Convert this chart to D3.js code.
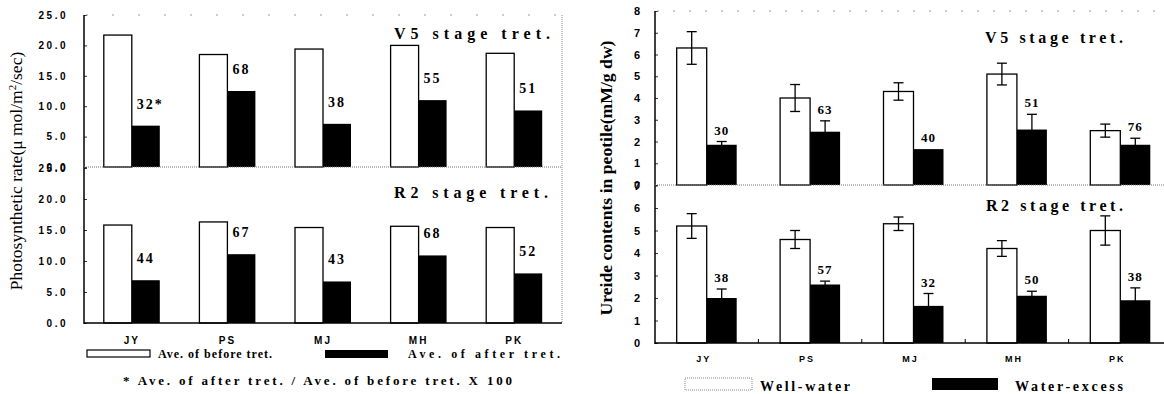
<!DOCTYPE html>
<html>
<head>
<meta charset="utf-8">
<script src="https://cdn.jsdelivr.net/npm/d3@7"></script>
<style>
  body { margin: 0; background: #fff; }
  svg { display: block; }
</style>
</head>
<body>
<div id="root"></div>
<script>
// ---- data ----
const categories = ["JY", "PS", "MJ", "MH", "PK"];

// photosynthetic rate (left chart)
const photoV5Before = [21.7, 18.5, 19.4, 20.0, 18.7];
const photoV5After = [6.8, 12.5, 7.1, 11.0, 9.3];
const photoV5Ratio = ["32*", "68", "38", "55", "51"];
const photoR2Before = [15.8, 16.3, 15.4, 15.6, 15.4];
const photoR2After = [6.9, 11.1, 6.7, 10.9, 8.0];
const photoR2Ratio = ["44", "67", "43", "68", "52"];
const photoTicks = [0, 5, 10, 15, 20, 25];

// ureide contents (right chart)
const ureideV5Well = [6.3, 4.0, 4.3, 5.1, 2.5];
const ureideV5WellErr = [0.75, 0.62, 0.4, 0.5, 0.3];
const ureideV5Excess = [1.85, 2.45, 1.65, 2.55, 1.85];
const ureideV5ExcessErr = [0.15, 0.5, 0.0, 0.7, 0.3];
const ureideV5Ratio = ["30", "63", "40", "51", "76"];
const ureideR2Well = [5.2, 4.6, 5.3, 4.2, 5.0];
const ureideR2WellErr = [0.55, 0.4, 0.3, 0.35, 0.65];
const ureideR2Excess = [2.0, 2.6, 1.65, 2.1, 1.9];
const ureideR2ExcessErr = [0.4, 0.15, 0.55, 0.2, 0.55];
const ureideR2Ratio = ["38", "57", "32", "50", "38"];
const ureideTicksV5 = [0, 1, 2, 3, 4, 5, 6, 7, 8];
const ureideTicksR2 = [0, 1, 2, 3, 4, 5, 6, 7];

const serif = "'Liberation Serif', 'Times New Roman', serif";
const sans = "'Liberation Sans', Arial, sans-serif";

const svg = d3.select("#root").append("svg")
    .attr("width", 1164)
    .attr("height", 394);

// ================= left chart =================
const xL = d3.scaleBand().domain(categories).range([84, 562]);
const barWL = 28;
const yLTop = d3.scaleLinear().domain([0, 25]).range([167, 15]);
const yLBot = d3.scaleLinear().domain([0, 25]).range([323, 168]);

function photoPanel(y, before, after, ratio) {
  const g = svg.append("g");
  const rows = categories.map((c, i) => ({c, before: before[i], after: after[i], ratio: ratio[i]}));
  g.selectAll(".wb").data(rows).enter().append("rect")
      .attr("x", d => xL(d.c) + xL.bandwidth() / 2 - barWL)
      .attr("y", d => y(d.before))
      .attr("width", barWL)
      .attr("height", d => y(0) - y(d.before))
      .attr("fill", "#fff").attr("stroke", "#000").attr("stroke-width", 1.3);
  g.selectAll(".bb").data(rows).enter().append("rect")
      .attr("x", d => xL(d.c) + xL.bandwidth() / 2)
      .attr("y", d => y(d.after))
      .attr("width", barWL)
      .attr("height", d => y(0) - y(d.after))
      .attr("fill", "#000");
  g.selectAll(".lbl").data(rows).enter().append("text")
      .attr("x", d => xL(d.c) + xL.bandwidth() / 2 + 5)
      .attr("y", d => y(d.after) - 17)
      .text(d => d.ratio)
      .style("font-family", serif).style("font-weight", "bold")
      .style("font-size", "14px").style("letter-spacing", "2px");
  const ax = g.append("g")
      .attr("transform", "translate(84,0)")
      .call(d3.axisLeft(y).tickValues(photoTicks).tickFormat(d3.format(".1f"))
            .tickSizeInner(-3).tickSizeOuter(0).tickPadding(16));
  ax.select(".domain").remove();
  ax.selectAll("line").attr("stroke-width", 0.8);
  ax.selectAll("text")
      .style("font-family", sans).style("font-weight", "bold")
      .style("font-size", "10px").style("letter-spacing", "2.5px");
}
photoPanel(yLTop, photoV5Before, photoV5After, photoV5Ratio);
photoPanel(yLBot, photoR2Before, photoR2After, photoR2Ratio);

// frame lines
svg.append("line").attr("x1", 84).attr("x2", 84).attr("y1", 15).attr("y2", 324)
    .attr("stroke", "#000").attr("stroke-width", 1.5);
svg.append("line").attr("x1", 84).attr("x2", 562).attr("y1", 323).attr("y2", 323)
    .attr("stroke", "#000").attr("stroke-width", 1.3);
svg.append("line").attr("x1", 84).attr("x2", 562).attr("y1", yLTop(0)).attr("y2", yLTop(0))
    .attr("stroke", "#777").attr("stroke-dasharray", "1,1");
svg.append("line").attr("x1", 562).attr("x2", 562).attr("y1", 15).attr("y2", 323)
    .attr("stroke", "#888").attr("stroke-dasharray", "1,1");
svg.append("line").attr("x1", 86).attr("x2", 562).attr("y1", 15).attr("y2", 15)
    .attr("stroke", "#999").attr("stroke-dasharray", "2,24");

svg.selectAll(".catL").data(categories).enter().append("text")
    .attr("x", d => xL(d) + xL.bandwidth() / 2)
    .attr("y", 344)
    .attr("text-anchor", "middle")
    .text(d => d)
    .style("font-family", sans).style("font-weight", "bold")
    .style("font-size", "10px").style("letter-spacing", "2px");

svg.append("text").attr("x", 394).attr("y", 39)
    .attr("textLength", 156).attr("lengthAdjust", "spacing")
    .text("V5 stage tret.")
    .style("font-family", serif).style("font-weight", "bold").style("font-size", "16px");
svg.append("text").attr("x", 394).attr("y", 198)
    .attr("textLength", 154).attr("lengthAdjust", "spacing")
    .text("R2 stage tret.")
    .style("font-family", serif).style("font-weight", "bold").style("font-size", "16px");

const yTitleL = svg.append("text")
    .attr("transform", "translate(22,171) rotate(-90)")
    .attr("text-anchor", "middle")
    .style("font-family", serif).style("font-size", "17.5px");
yTitleL.append("tspan").text("Photosynthetic rate(\u03bc mol/m");
yTitleL.append("tspan").attr("dy", -6).style("font-size", "11px").text("2");
yTitleL.append("tspan").attr("dy", 6).text("/sec)");

// left legend
svg.append("rect").attr("x", 87).attr("y", 350).attr("width", 63).attr("height", 7)
    .attr("fill", "#fff").attr("stroke", "#000").attr("stroke-width", 1.2);
svg.append("text").attr("x", 158).attr("y", 358).attr("textLength", 114).attr("lengthAdjust", "spacing")
    .text("Ave. of before tret.")
    .style("font-family", serif).style("font-weight", "bold").style("font-size", "12px");
svg.append("rect").attr("x", 325).attr("y", 350).attr("width", 63).attr("height", 8).attr("fill", "#000");
svg.append("text").attr("x", 408).attr("y", 358).attr("textLength", 152).attr("lengthAdjust", "spacing")
    .text("Ave. of after tret.")
    .style("font-family", serif).style("font-weight", "bold").style("font-size", "12px");
svg.append("text").attr("x", 123).attr("y", 385).attr("textLength", 389).attr("lengthAdjust", "spacing")
    .text("* Ave. of after tret. / Ave. of  before tret. X 100")
    .style("font-family", serif).style("font-weight", "bold").style("font-size", "13px");

// ================= right chart =================
const xR = d3.scaleBand().domain(categories).range([655, 1172]);
const barWR = 30;
const yRTop = d3.scaleLinear().domain([0, 8]).range([185, 11]);
const yRBot = d3.scaleLinear().domain([0, 7]).range([343, 185.5]);

function ureidePanel(y, well, wellErr, excess, excessErr, ratio, ticks) {
  const g = svg.append("g");
  const rows = categories.map((c, i) => ({
    c, well: well[i], wellErr: wellErr[i], excess: excess[i], excessErr: excessErr[i], ratio: ratio[i]
  }));
  const cx = d => xR(d.c) + xR.bandwidth() / 2;
  g.selectAll(".wb").data(rows).enter().append("rect")
      .attr("x", d => cx(d) - barWR)
      .attr("y", d => y(d.well))
      .attr("width", barWR)
      .attr("height", d => y(0) - y(d.well))
      .attr("fill", "#fff").attr("stroke", "#000").attr("stroke-width", 1.3);
  g.selectAll(".bb").data(rows).enter().append("rect")
      .attr("x", d => cx(d))
      .attr("y", d => y(d.excess))
      .attr("width", barWR)
      .attr("height", d => y(0) - y(d.excess))
      .attr("fill", "#000");
  // error bars
  const errs = rows.flatMap(d => [
    {x: cx(d) - barWR / 2, v: d.well, e: d.wellErr},
    {x: cx(d) + barWR / 2, v: d.excess, e: d.excessErr}
  ]).filter(d => d.e > 0);
  const eg = g.selectAll(".err").data(errs).enter().append("g").attr("stroke", "#000").attr("stroke-width", 1.3);
  eg.append("line").attr("x1", d => d.x).attr("x2", d => d.x)
      .attr("y1", d => y(d.v - d.e)).attr("y2", d => y(d.v + d.e));
  eg.append("line").attr("x1", d => d.x - 5).attr("x2", d => d.x + 5)
      .attr("y1", d => y(d.v + d.e)).attr("y2", d => y(d.v + d.e));
  eg.append("line").attr("x1", d => d.x - 5).attr("x2", d => d.x + 5)
      .attr("y1", d => y(d.v - d.e)).attr("y2", d => y(d.v - d.e));
  g.selectAll(".lbl").data(rows).enter().append("text")
      .attr("x", d => cx(d) + barWR / 2)
      .attr("y", d => y(d.excess + d.excessErr) - 7)
      .attr("text-anchor", "middle")
      .text(d => d.ratio)
      .style("font-family", serif).style("font-weight", "bold")
      .style("font-size", "13px").style("letter-spacing", "1px");
  const ax = g.append("g")
      .attr("transform", "translate(655,0)")
      .call(d3.axisLeft(y).tickValues(ticks).tickFormat(d3.format("d"))
            .tickSizeInner(-3).tickSizeOuter(0).tickPadding(15));
  ax.select(".domain").remove();
  ax.selectAll("line").attr("stroke-width", 0.8);
  ax.selectAll("text")
      .style("font-family", sans).style("font-weight", "bold").style("font-size", "11px");
}
ureidePanel(yRTop, ureideV5Well, ureideV5WellErr, ureideV5Excess, ureideV5ExcessErr, ureideV5Ratio, ureideTicksV5);
ureidePanel(yRBot, ureideR2Well, ureideR2WellErr, ureideR2Excess, ureideR2ExcessErr, ureideR2Ratio, ureideTicksR2);

svg.append("line").attr("x1", 655).attr("x2", 655).attr("y1", 11).attr("y2", 344)
    .attr("stroke", "#000").attr("stroke-width", 1.5);
svg.append("line").attr("x1", 655).attr("x2", 1164).attr("y1", 343).attr("y2", 343)
    .attr("stroke", "#000").attr("stroke-width", 1.5);
svg.append("line").attr("x1", 655).attr("x2", 1164).attr("y1", yRTop(0)).attr("y2", yRTop(0))
    .attr("stroke", "#777").attr("stroke-dasharray", "1,1");
svg.append("line").attr("x1", 657).attr("x2", 1164).attr("y1", 11).attr("y2", 11)
    .attr("stroke", "#999").attr("stroke-dasharray", "2,14");
// small ticks between categories on x axis
svg.selectAll(".xtR").data(categories.slice(1)).enter().append("line")
    .attr("x1", d => xR(d)).attr("x2", d => xR(d))
    .attr("y1", 339).attr("y2", 343)
    .attr("stroke", "#000");

svg.selectAll(".catR").data(categories).enter().append("text")
    .attr("x", d => xR(d) + xR.bandwidth() / 2 - 3)
    .attr("y", 362)
    .attr("text-anchor", "middle")
    .text(d => d)
    .style("font-family", sans).style("font-weight", "bold")
    .style("font-size", "9px").style("letter-spacing", "2px");

svg.append("text").attr("x", 985).attr("y", 43)
    .attr("textLength", 138).attr("lengthAdjust", "spacing")
    .text("V5 stage tret.")
    .style("font-family", serif).style("font-weight", "bold").style("font-size", "16px");
svg.append("text").attr("x", 986).attr("y", 211)
    .attr("textLength", 137).attr("lengthAdjust", "spacing")
    .text("R2 stage tret.")
    .style("font-family", serif).style("font-weight", "bold").style("font-size", "16px");

svg.append("text")
    .attr("transform", "translate(612,178) rotate(-90)")
    .attr("text-anchor", "middle")
    .attr("textLength", 275).attr("lengthAdjust", "spacingAndGlyphs")
    .text("Ureide contents in peotile(mM/g dw)")
    .style("font-family", serif).style("font-weight", "bold").style("font-size", "16px");

// right legend
svg.append("rect").attr("x", 685).attr("y", 378).attr("width", 67).attr("height", 12)
    .attr("fill", "#fff").attr("stroke", "#888").attr("stroke-dasharray", "1,1");
svg.append("text").attr("x", 760).attr("y", 391).attr("textLength", 90).attr("lengthAdjust", "spacing")
    .text("Well-water")
    .style("font-family", serif).style("font-weight", "bold").style("font-size", "14px");
svg.append("rect").attr("x", 932).attr("y", 378).attr("width", 66).attr("height", 12).attr("fill", "#000");
svg.append("text").attr("x", 1015).attr("y", 391).attr("textLength", 108).attr("lengthAdjust", "spacing")
    .text("Water-excess")
    .style("font-family", serif).style("font-weight", "bold").style("font-size", "14px");
</script>
</body>
</html>
